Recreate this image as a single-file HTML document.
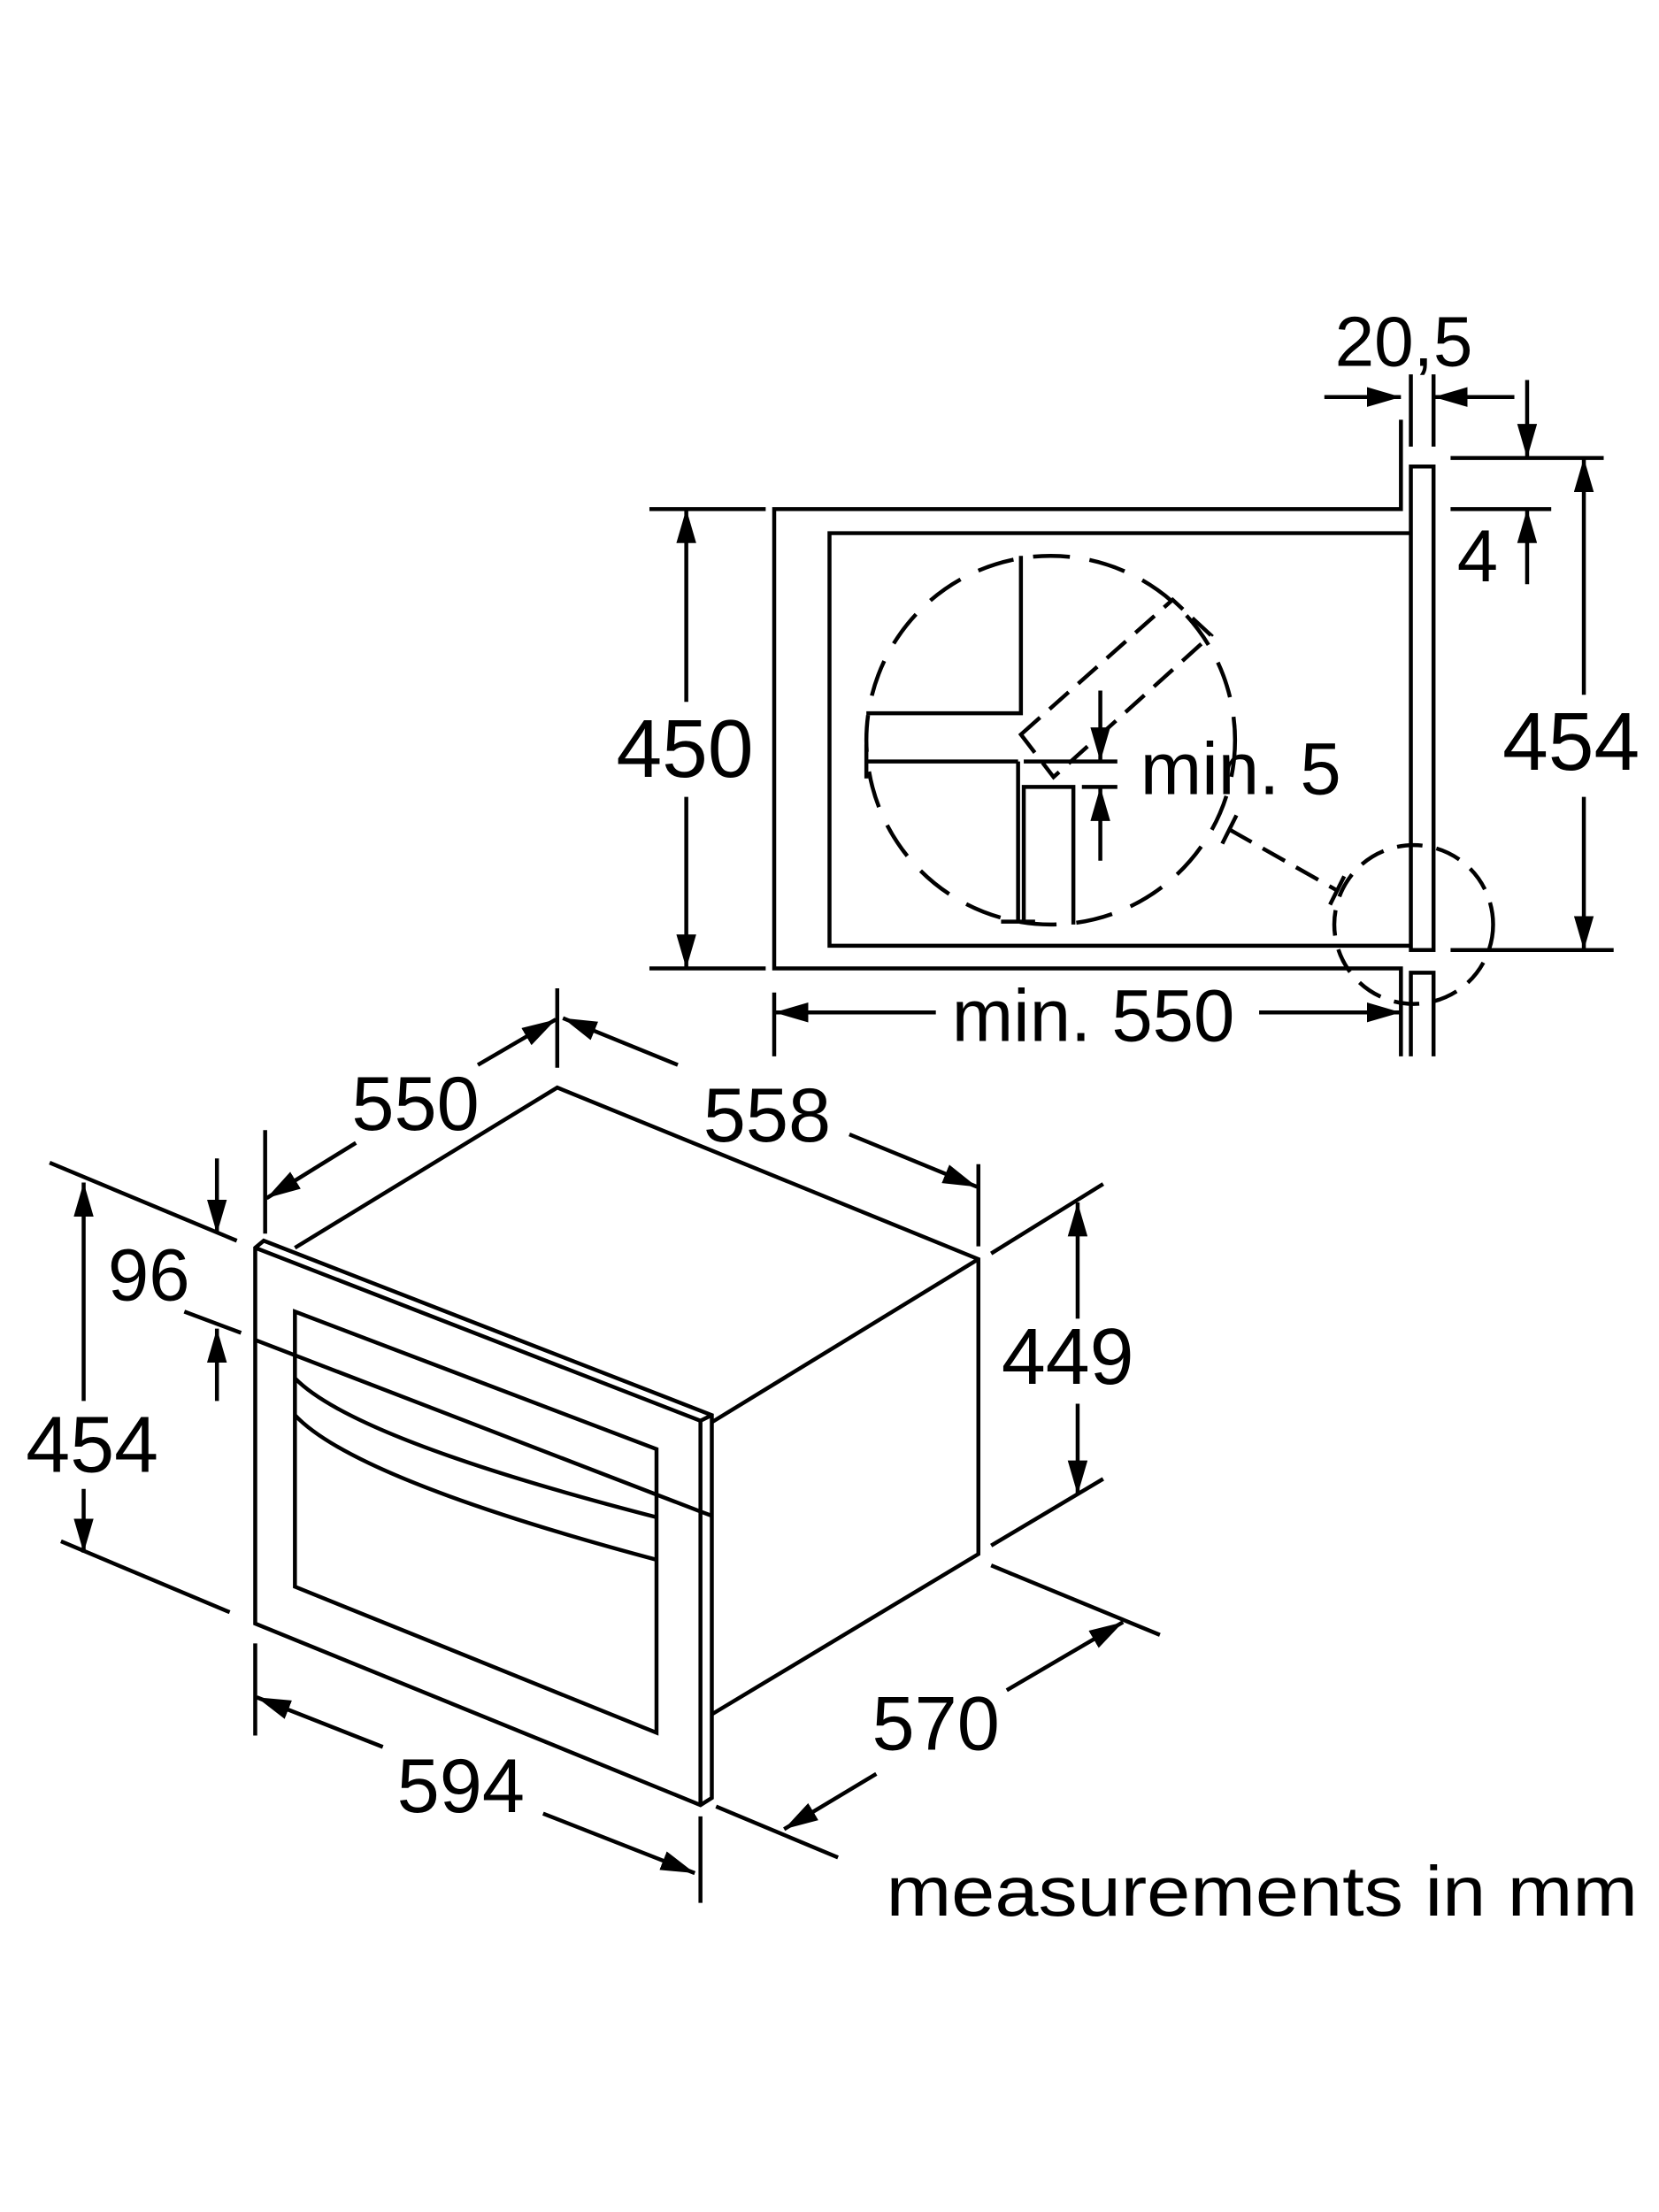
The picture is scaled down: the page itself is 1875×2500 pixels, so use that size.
<!DOCTYPE html>
<html><head><meta charset="utf-8"><style>html,body{margin:0;padding:0;background:#fff}svg{display:block}</style></head><body>
<svg width="1875" height="2500" viewBox="0 0 1170 1560" xmlns="http://www.w3.org/2000/svg">
<defs>
<marker id="a" viewBox="0 0 24 14" refX="24" refY="7" markerWidth="24" markerHeight="14" markerUnits="userSpaceOnUse" orient="auto"><path d="M0,0 L24,7 L0,14 z" fill="#000"/></marker>
</defs>
<g fill="none" stroke="#000" stroke-width="2.8">
<polyline points="988,296 988,359 546,359 546,683 988,683 988,745"/>
<rect x="995" y="329" width="16" height="341"/>
<polyline points="995,376 585,376 585,667 995,667"/>
<polyline points="995,745 995,686 1011,686 1011,745"/>
<line x1="995" y1="264" x2="995" y2="315"/>
<line x1="1011" y1="264" x2="1011" y2="315"/>
<line x1="934" y1="280" x2="988" y2="280" marker-end="url(#a)"/>
<line x1="1068" y1="280" x2="1011" y2="280" marker-end="url(#a)"/>
<line x1="458" y1="359" x2="540" y2="359"/>
<line x1="458" y1="683" x2="540" y2="683"/>
<line x1="484" y1="495" x2="484" y2="359" marker-end="url(#a)"/>
<line x1="484" y1="562" x2="484" y2="683" marker-end="url(#a)"/>
<line x1="1023" y1="323" x2="1131" y2="323"/>
<line x1="1023" y1="359" x2="1094" y2="359"/>
<line x1="1023" y1="670" x2="1138" y2="670"/>
<line x1="1117" y1="490" x2="1117" y2="323" marker-end="url(#a)"/>
<line x1="1117" y1="562" x2="1117" y2="670" marker-end="url(#a)"/>
<line x1="1077" y1="268" x2="1077" y2="323" marker-end="url(#a)"/>
<line x1="1077" y1="412" x2="1077" y2="359" marker-end="url(#a)"/>
<line x1="546" y1="700" x2="546" y2="745"/>
<line x1="660" y1="714" x2="546" y2="714" marker-end="url(#a)"/>
<line x1="888" y1="714" x2="988" y2="714" marker-end="url(#a)"/>
<circle cx="741" cy="522" r="130" stroke-dasharray="26,14"/>
<circle cx="997" cy="652" r="56" stroke-dasharray="18,10"/>
<polygon points="720,518 827,423 854,448 743,548" stroke-dasharray="18,9"/>
<line x1="867" y1="585" x2="943" y2="628" stroke-dasharray="18,9"/>
<line x1="862" y1="595" x2="872" y2="575"/>
<line x1="938" y1="638" x2="948" y2="618"/>
<polyline points="611,503 720,503 720,392"/>
<line x1="611" y1="537" x2="718" y2="537"/>
<line x1="611" y1="525" x2="611" y2="549"/>
<line x1="718" y1="537" x2="718" y2="650"/>
<line x1="706" y1="650" x2="730" y2="650"/>
<polyline points="722,650 722,555 757,555 757,652"/>
<line x1="722" y1="537" x2="788" y2="537"/>
<line x1="763" y1="555" x2="788" y2="555"/>
<line x1="776" y1="487" x2="776" y2="537" marker-end="url(#a)"/>
<line x1="776" y1="607" x2="776" y2="555" marker-end="url(#a)"/>
<polygon points="180,880 186,875 502,998 502,1268 494,1273 180,1145"/>
<line x1="494" y1="1002" x2="494" y2="1273"/>
<line x1="180" y1="880" x2="494" y2="1002"/>
<line x1="494" y1="1002" x2="502" y2="998"/>
<polyline points="208,880 393,767 690,888 690,1096 502,1209"/>
<line x1="502" y1="1003" x2="690" y2="888"/>
<line x1="180" y1="945" x2="494" y2="1066"/>
<line x1="494" y1="1066" x2="502" y2="1069"/>
<polygon points="208,925 463,1022 463,1222 208,1119"/>
<path d="M208,972 Q250,1015 463,1070"/>
<path d="M208,998 Q250,1043 463,1100"/>
<line x1="187" y1="797" x2="187" y2="870"/>
<line x1="393" y1="697" x2="393" y2="753"/>
<line x1="251" y1="806" x2="188" y2="845" marker-end="url(#a)"/>
<line x1="337" y1="751" x2="392" y2="719" marker-end="url(#a)"/>
<line x1="478" y1="751" x2="397" y2="718" marker-end="url(#a)"/>
<line x1="599" y1="800" x2="689" y2="837" marker-end="url(#a)"/>
<line x1="690" y1="821" x2="690" y2="879"/>
<line x1="35" y1="820" x2="167" y2="875"/>
<line x1="130" y1="925" x2="170" y2="940"/>
<line x1="153" y1="817" x2="153" y2="870" marker-end="url(#a)"/>
<line x1="153" y1="988" x2="153" y2="937" marker-end="url(#a)"/>
<line x1="43" y1="1087" x2="162" y2="1137"/>
<line x1="59" y1="988" x2="59" y2="834" marker-end="url(#a)"/>
<line x1="59" y1="1050" x2="59" y2="1095" marker-end="url(#a)"/>
<line x1="699" y1="884" x2="778" y2="835"/>
<line x1="699" y1="1090" x2="778" y2="1043"/>
<line x1="760" y1="930" x2="760" y2="848" marker-end="url(#a)"/>
<line x1="760" y1="990" x2="760" y2="1054" marker-end="url(#a)"/>
<line x1="699" y1="1104" x2="818" y2="1153"/>
<line x1="505" y1="1274" x2="591" y2="1310"/>
<line x1="618" y1="1251" x2="553" y2="1290" marker-end="url(#a)"/>
<line x1="710" y1="1192" x2="792" y2="1144" marker-end="url(#a)"/>
<line x1="180" y1="1159" x2="180" y2="1224"/>
<line x1="494" y1="1281" x2="494" y2="1342"/>
<line x1="270" y1="1232" x2="181" y2="1197" marker-end="url(#a)"/>
<line x1="383" y1="1279" x2="490" y2="1321" marker-end="url(#a)"/>
</g>
<g font-family="Liberation Sans, sans-serif" font-size="56" fill="#000" text-anchor="middle">
<text x="990" y="258" font-size="50">20,5</text>
<text x="483" y="548" font-size="58">450</text>
<text x="1108" y="543" font-size="58">454</text>
<text x="1042" y="410" font-size="52">4</text>
<text x="875" y="560" font-size="52">min. 5</text>
<text x="771" y="734" font-size="52">min. 550</text>
<text x="293" y="797" font-size="54">550</text>
<text x="541" y="805" font-size="54">558</text>
<text x="105" y="917" font-size="52">96</text>
<text x="65" y="1038" font-size="56">454</text>
<text x="753" y="976" font-size="56">449</text>
<text x="660" y="1234" font-size="54">570</text>
<text x="325" y="1278" font-size="54">594</text>
<text x="890" y="1351" font-size="50" textLength="530" lengthAdjust="spacingAndGlyphs">measurements in mm</text>
</g>
</svg>
</body></html>
